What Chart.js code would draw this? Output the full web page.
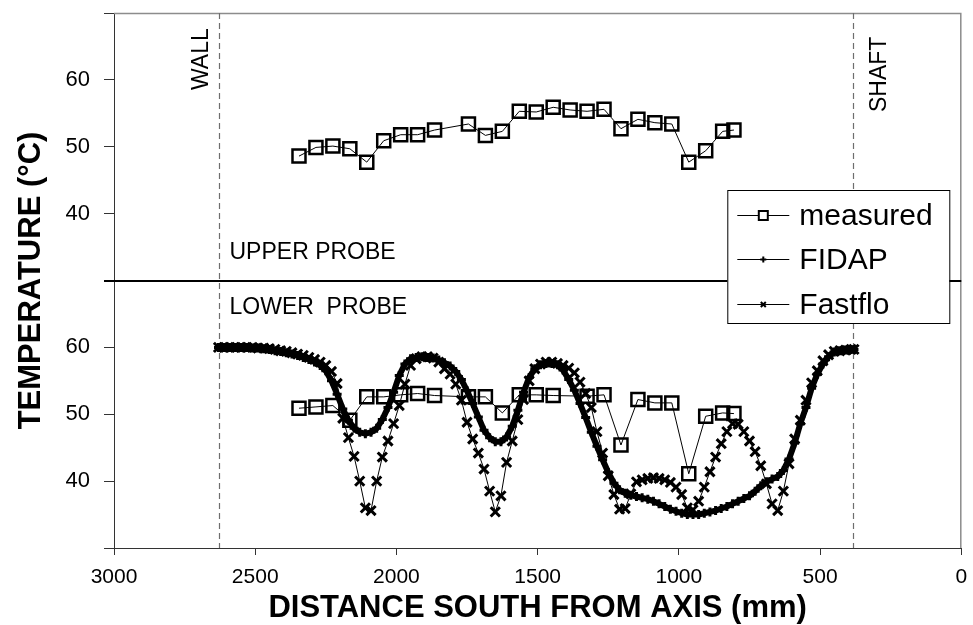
<!DOCTYPE html>
<html><head><meta charset="utf-8">
<script src="https://cdn.jsdelivr.net/npm/chart.js"></script>
<style>html,body{margin:0;padding:0;background:#fff;}#c{display:block;}</style>
</head><body>
<canvas id="c" width="973" height="625"></canvas>
<script>
// ---------- DATA ----------
const measuredDist = [2345,2285,2225,2165,2105,2045,1985,1925,1865,1805,1745,1685,1625,1565,1505,1445,1385,1325,1265,1205,1145,1085,1025,965,905,845,805];
const upperMeasured = [48.6,49.9,50.1,49.7,47.7,50.9,51.8,51.8,52.5,null,53.4,51.7,52.3,55.3,55.2,55.9,55.5,55.3,55.6,52.7,54.1,53.6,53.4,47.7,49.4,52.3,52.5];
const lowerMeasured = [50.9,51.1,51.3,49.1,52.6,52.6,52.9,53.1,52.8,null,52.6,52.6,50.2,52.9,52.9,52.8,null,52.7,52.9,45.4,52.2,51.7,51.7,41.1,49.7,50.2,50.1];

const simDist = [2630,2610,2590,2570,2550,2530,2510,2490,2470,2450,
2430,2410,2390,2370,2350,2330,2310,2290,2270,2250,
2230,2210,2190,2170,2150,2130,2110,2090,2070,2050,
2030,2010,1990,1970,1950,1930,1910,1890,1870,1850,
1830,1810,1790,1770,1750,1730,1710,1690,1670,1650,
1630,1610,1590,1570,1550,1530,1510,1490,1470,1450,
1430,1410,1390,1370,1350,1330,1310,1290,1270,1250,
1230,1210,1190,1170,1150,1130,1110,1090,1070,1050,
1030,1010,990,970,950,930,910,890,870,850,
830,810,790,770,750,730,710,690,670,650,
630,610,590,570,550,530,510,490,470,450,
430,410,390,380];

const fidap = [60.0,60.0,60.0,60.0,60.0,60.0,59.9,59.9,59.8,59.7,
59.5,59.4,59.2,59.0,58.8,58.5,58.2,57.8,57.3,56.5,
55.0,53.0,50.8,49.1,47.9,47.3,47.1,47.3,47.9,49.2,
51.0,53.3,55.8,57.5,58.3,58.5,58.6,58.5,58.4,58.1,
57.7,57.2,56.4,55.2,53.5,51.6,49.6,47.6,46.5,45.9,
45.9,46.6,48.2,50.6,53.3,55.5,56.8,57.4,57.6,57.6,
57.4,56.6,55.2,53.6,51.6,49.5,47.3,45.2,43.2,41.3,
39.7,38.7,38.2,37.9,37.7,37.5,37.3,37.0,36.6,36.2,
35.8,35.5,35.2,35.0,35.0,35.0,35.2,35.4,35.6,35.9,
36.2,36.6,37.0,37.4,37.8,38.5,39.3,39.9,40.3,40.7,
41.6,43.3,45.7,48.6,51.0,53.9,56.0,57.5,58.6,59.3,
59.5,59.6,59.7,59.7];

const fastflo = [60.0,60.0,60.0,60.0,60.0,60.0,60.0,59.9,59.9,59.8,
59.7,59.5,59.4,59.2,59.0,58.8,58.5,58.2,57.8,57.3,
56.4,54.6,49.4,46.5,43.7,40.0,36.0,35.6,40.0,43.6,
46.0,48.6,51.3,54.5,57.3,58.3,58.6,58.6,58.4,57.8,
56.8,56.0,54.5,52.1,48.8,46.3,44.2,41.8,38.5,35.4,
37.8,42.8,46.0,49.2,52.2,55.0,56.8,57.5,57.8,57.8,
57.6,57.3,56.9,56.2,54.8,53.1,51.0,47.4,44.2,40.8,
38.0,35.8,35.9,38.1,39.9,40.2,40.4,40.5,40.4,40.2,
39.8,39.1,38.0,36.0,35.7,37.0,39.1,41.4,43.6,45.6,
47.4,48.6,48.5,47.4,46.0,44.4,42.3,39.6,36.6,35.6,
38.5,42.6,46.3,49.1,52.1,54.7,56.5,58.0,58.9,59.4,
59.5,59.6,59.7,59.7];

const xTickValues = [0,500,1000,1500,2000,2500,3000];
const upperOffset = 40;      // upper probe panel is drawn 40 units above the lower one
const dividerValue = 70;
const wallPos = 2630;
const shaftPos = 382;
const legendLabels = ['measured','FIDAP','Fastflo'];

// ---------- BUILD ----------
const FONT = '"Liberation Sans", Arial, sans-serif';
const pts = (xs, ys, off) => xs.map((x, i) => ({x: x, y: ys[i] == null ? null : ys[i] + off}));

const measuredStyle = {
  showLine: true, spanGaps: true, borderColor: '#000', borderWidth: 1,
  pointStyle: 'rect', pointRadius: 9.2, pointBorderWidth: 2.5,
  pointBorderColor: '#000', pointBackgroundColor: 'rgba(0,0,0,0)', backgroundColor: 'rgba(0,0,0,0)'
};

const deco = {
  id: 'deco',
  beforeDatasetsDraw(chart) {
    const {ctx, chartArea: a, scales: {x, y}} = chart;
    ctx.save();
    ctx.strokeStyle = '#8c8c8c'; ctx.lineWidth = 1.5;
    ctx.beginPath(); ctx.moveTo(a.left, a.top + 0.5); ctx.lineTo(a.right - 0.5, a.top + 0.5); ctx.lineTo(a.right - 0.5, a.bottom); ctx.stroke();
    ctx.setLineDash([6, 4]); ctx.strokeStyle = '#6e6e6e'; ctx.lineWidth = 1.2;
    [wallPos, shaftPos].forEach(v => {
      const px = Math.round(x.getPixelForValue(v)) + 0.5;
      ctx.beginPath(); ctx.moveTo(px, a.top); ctx.lineTo(px, a.bottom); ctx.stroke();
    });
    ctx.setLineDash([]);
    const py = Math.round(y.getPixelForValue(dividerValue));
    ctx.strokeStyle = '#000'; ctx.lineWidth = 2;
    ctx.beginPath(); ctx.moveTo(a.left - 10, py); ctx.lineTo(a.right, py); ctx.stroke();
    const xw = x.getPixelForValue(wallPos), xs = x.getPixelForValue(shaftPos);
    ctx.fillStyle = '#000'; ctx.font = '23px ' + FONT; ctx.textAlign = 'left'; ctx.textBaseline = 'alphabetic';
    ctx.fillText('UPPER PROBE', xw + 11, py - 22);
    ctx.fillText('LOWER  PROBE', xw + 11, py + 33);
    ctx.save(); ctx.translate(xw - 11, a.top + 77); ctx.rotate(-Math.PI / 2); ctx.fillText('WALL', 0, 0); ctx.restore();
    ctx.save(); ctx.translate(xs + 33, a.top + 99); ctx.rotate(-Math.PI / 2); ctx.fillText('SHAFT', 0, 0); ctx.restore();
    ctx.restore();
  },
  afterDraw(chart) {
    const {ctx, chartArea: a} = chart;
    ctx.save();
    ctx.fillStyle = '#000'; ctx.font = 'bold 31px ' + FONT;
    ctx.textAlign = 'center'; ctx.textBaseline = 'alphabetic';
    ctx.fillText('DISTANCE SOUTH FROM AXIS (mm)', (a.left + a.right) / 2, 617);
    ctx.save(); ctx.translate(40, (a.top + a.bottom) / 2); ctx.rotate(-Math.PI / 2);
    ctx.fillText('TEMPERATURE (°C)', 0, 0); ctx.restore();
    const bx = a.right - 234, by = 190, bw = 222, bh = 133;
    ctx.fillStyle = '#fff'; ctx.fillRect(bx, by, bw, bh);
    ctx.strokeStyle = '#000'; ctx.lineWidth = 1; ctx.strokeRect(bx + 0.5, by + 0.5, bw, bh);
    const rows = [215, 259, 304];
    ctx.font = '30px ' + FONT; ctx.textAlign = 'left';
    rows.forEach((ry, i) => {
      const x0 = bx + 10, x1 = bx + 62, xm = (x0 + x1) / 2;
      ctx.strokeStyle = '#000'; ctx.lineWidth = 1;
      ctx.beginPath(); ctx.moveTo(x0, ry + 0.5); ctx.lineTo(x1, ry + 0.5); ctx.stroke();
      ctx.lineWidth = 2;
      if (i === 0) {
        ctx.fillStyle = '#fff'; ctx.fillRect(xm - 4.5, ry - 4, 9, 9);
        ctx.strokeRect(xm - 4.5, ry - 4, 9, 9);
      } else if (i === 1) {
        ctx.beginPath(); ctx.moveTo(xm - 3, ry + 0.5); ctx.lineTo(xm + 3, ry + 0.5);
        ctx.moveTo(xm, ry - 2.5); ctx.lineTo(xm, ry + 3.5); ctx.stroke();
      } else {
        ctx.beginPath(); ctx.moveTo(xm - 2.5, ry - 2); ctx.lineTo(xm + 2.5, ry + 3);
        ctx.moveTo(xm + 2.5, ry - 2); ctx.lineTo(xm - 2.5, ry + 3); ctx.stroke();
      }
      ctx.fillStyle = '#000';
      ctx.fillText(legendLabels[i], bx + 72, ry + 10);
    });
    ctx.restore();
  }
};

new Chart(document.getElementById('c'), {
  type: 'scatter',
  data: {
    datasets: [
      Object.assign({label: 'measured', data: pts(measuredDist, lowerMeasured, 0)}, measuredStyle),
      Object.assign({label: 'measured (upper)', data: pts(measuredDist, upperMeasured, upperOffset)}, measuredStyle),
      {label: 'FIDAP', data: pts(simDist, fidap, 0), showLine: true, borderColor: '#000', borderWidth: 6,
       pointStyle: 'cross', pointRadius: 4.5, pointBorderWidth: 3, pointBorderColor: '#000', pointBackgroundColor: '#000'},
      {label: 'Fastflo', data: pts(simDist, fastflo, 0), showLine: true, borderColor: '#000', borderWidth: 1,
       pointStyle: 'crossRot', pointRadius: 6.5, pointBorderWidth: 3, pointBorderColor: '#000', pointBackgroundColor: '#000'}
    ]
  },
  options: {
    responsive: false, devicePixelRatio: 1, animation: false, events: [],
    layout: {padding: {top: 13, right: 11, left: 0, bottom: 0}},
    plugins: {legend: {display: false}, tooltip: {enabled: false}},
    scales: {
      x: {
        type: 'linear', min: 0, max: 3000, reverse: true,
        afterFit: s => { s.height = 77; s.paddingLeft = 0; s.paddingRight = 0; },
        afterBuildTicks: s => { s.ticks = xTickValues.map(v => ({value: v})); },
        ticks: {autoSkip: false, maxRotation: 0, padding: 10, color: '#000', font: {family: FONT, size: 21},
          callback: v => String(v)},
        grid: {drawOnChartArea: false, drawTicks: true, tickLength: 7, color: '#333'},
        border: {color: '#333', width: 1}
      },
      y: {
        type: 'linear', min: 30, max: 110,
        afterFit: s => { s.width = 114; s.paddingTop = 0; s.paddingBottom = 0; },
        ticks: {stepSize: 10, autoSkip: false, padding: 14, color: '#000', font: {family: FONT, size: 22},
          callback: v => (v === 30 || v === 70 || v === 110) ? '' : String(v > dividerValue ? v - upperOffset : v)},
        grid: {drawOnChartArea: false, drawTicks: true, tickLength: 10, color: '#333'},
        border: {color: '#333', width: 1}
      }
    }
  },
  plugins: [deco]
});
</script>
</body></html>
